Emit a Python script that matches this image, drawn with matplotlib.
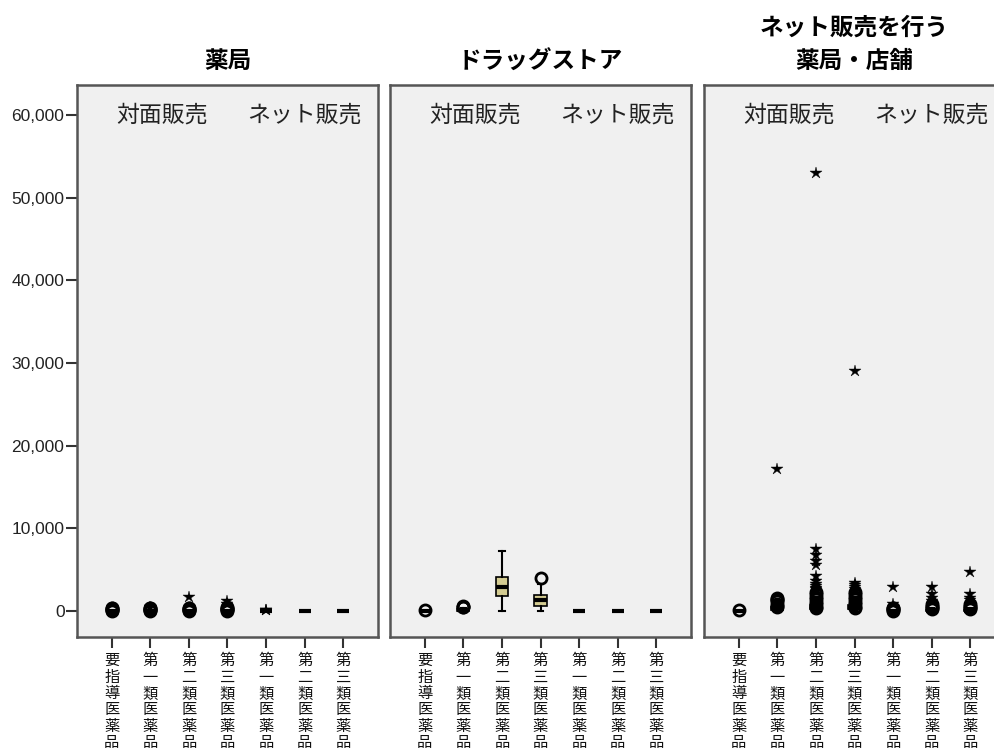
import matplotlib
matplotlib.use("Agg")
import matplotlib.pyplot as plt
from matplotlib.ticker import FuncFormatter

JP = ["Noto Sans CJK JP", "DejaVu Sans"]
NUM = ["Liberation Sans", "DejaVu Sans"]

panel_titles = ["薬局", "ドラッグストア", "ネット販売を行う\n薬局・店舗"]
categories = ["要指導医薬品", "第一類医薬品", "第二類医薬品", "第三類医薬品",
              "第一類医薬品", "第二類医薬品", "第三類医薬品"]
group_labels = ["対面販売", "ネット販売"]
yticks = [0, 10000, 20000, 30000, 40000, 50000, 60000]

# box stats per panel: (whislo, q1, med, q3, whishi)
pharmacy_boxes = [(0, 0, 0, 0, 0)] * 7
drugstore_boxes = [(0, 0, 0, 0, 0), (0, 50, 100, 200, 350), (0, 1820, 2950, 4150, 7270),
                   (0, 620, 1300, 1950, 3300), (0, 0, 0, 0, 0), (0, 0, 0, 0, 0), (0, 0, 0, 0, 0)]
online_boxes = [(0, 0, 0, 0, 0), (0, 150, 300, 500, 900), (0, 200, 400, 700, 1100),
                (0, 200, 400, 700, 1100), (0, 0, 0, 50, 150), (0, 0, 50, 150, 300),
                (0, 0, 50, 150, 300)]

# outliers (circles) per panel / category
pharmacy_out = [[0, 80, 160, 240, 320, 400], [0, 80, 160, 240, 320, 400],
                [0, 80, 160, 240, 320, 400], [40, 120, 200, 280, 360, 450],
                [], [], []]
drugstore_out = [[60], [420, 520, 620], [], [3960], [], [], []]
online_out = [[60],
              [500, 650, 800, 1150, 1300, 1450, 1600],
              [300, 500, 800, 1100, 1400, 1700, 2000, 2300],
              [300, 500, 800, 1100, 1400, 1700, 2000, 2300],
              [0, 100, 200, 300, 400],
              [200, 350, 500, 650, 800],
              [200, 350, 500, 650, 800]]

# extremes (stars) per panel / category
pharmacy_ext = [[], [450], [1700], [1200, 800], [60, 120], [], []]
drugstore_ext = [[], [], [], [], [], [], []]
online_ext = [[], [17200],
              [2600, 2800, 3000, 3300, 3600, 4200, 5500, 6100, 6800, 7500, 53000],
              [2700, 2900, 3100, 3400, 29000],
              [850, 2900],
              [1200, 1600, 2000, 2900],
              [1300, 1600, 2100, 4700]]

panels = [(pharmacy_boxes, pharmacy_out, pharmacy_ext),
          (drugstore_boxes, drugstore_out, drugstore_ext),
          (online_boxes, online_out, online_ext)]

fig = plt.figure(figsize=(9.94, 7.55), dpi=100)
lefts = [77, 390, 704]
W, H = 994, 755
ax_w = 301
top_px, bot_px = 85, 637

pos = list(range(1, 8))
for i, (boxes, outs, exts) in enumerate(panels):
    ax = fig.add_axes([lefts[i] / W, 1 - bot_px / H, ax_w / W, (bot_px - top_px) / H])
    ax.set_facecolor("#f0f0f0")
    stats = [dict(whislo=b[0], q1=b[1], med=b[2], q3=b[3], whishi=b[4], label="")
             for b in boxes]
    ax.bxp(stats, positions=pos, widths=0.32, showfliers=False, patch_artist=True,
           capwidths=0.14,
           boxprops=dict(facecolor="#d4cc92", edgecolor="black", linewidth=1.2),
           medianprops=dict(color="black", linewidth=3, solid_capstyle="butt"),
           whiskerprops=dict(color="black", linewidth=1.5),
           capprops=dict(color="black", linewidth=1.5))
    for p, vals in zip(pos, outs):
        if vals:
            ax.plot([p] * len(vals), vals, linestyle="none", marker="o", markersize=8,
                    markerfacecolor="none", markeredgecolor="black", markeredgewidth=2.0,
                    zorder=4)
    for p, vals in zip(pos, exts):
        if vals:
            ax.plot([p] * len(vals), vals, linestyle="none", marker="*", markersize=9,
                    markerfacecolor="black", markeredgecolor="black", markeredgewidth=0.3,
                    zorder=5)
    ax.set_xlim(0.1, 7.9)
    ax.set_ylim(-3150, 63630)
    ax.set_xticks(pos)
    ax.set_xticklabels(["\n".join(c) for c in categories], family=JP, fontsize=11,
                       linespacing=0.95, va="top", color="#111111")
    ax.tick_params(axis="x", length=8, width=1.5, color="#333333", pad=3)
    ax.set_yticks(yticks)
    if i == 0:
        ax.yaxis.set_major_formatter(FuncFormatter(lambda v, _: f"{int(v):,}"))
        ax.tick_params(axis="y", length=8, width=1.5, color="#333333", labelsize=12.5,
                       pad=1, labelcolor="#222222")
        for t in ax.get_yticklabels():
            t.set_family(NUM)
    else:
        ax.tick_params(axis="y", length=0, labelleft=False)
    for s in ax.spines.values():
        s.set_color("#555555")
        s.set_linewidth(1.8)
    ax.text(2.3, 60000, group_labels[0], family=JP, fontsize=16.5, ha="center",
            va="center", color="#222222")
    ax.text(6.0, 60000, group_labels[1], family=JP, fontsize=16.5, ha="center",
            va="center", color="#222222")
    ax.set_title(panel_titles[i], family=JP, fontsize=17, fontweight="bold",
                 pad=12, linespacing=1.5)

fig.savefig("out.png", dpi=100)
